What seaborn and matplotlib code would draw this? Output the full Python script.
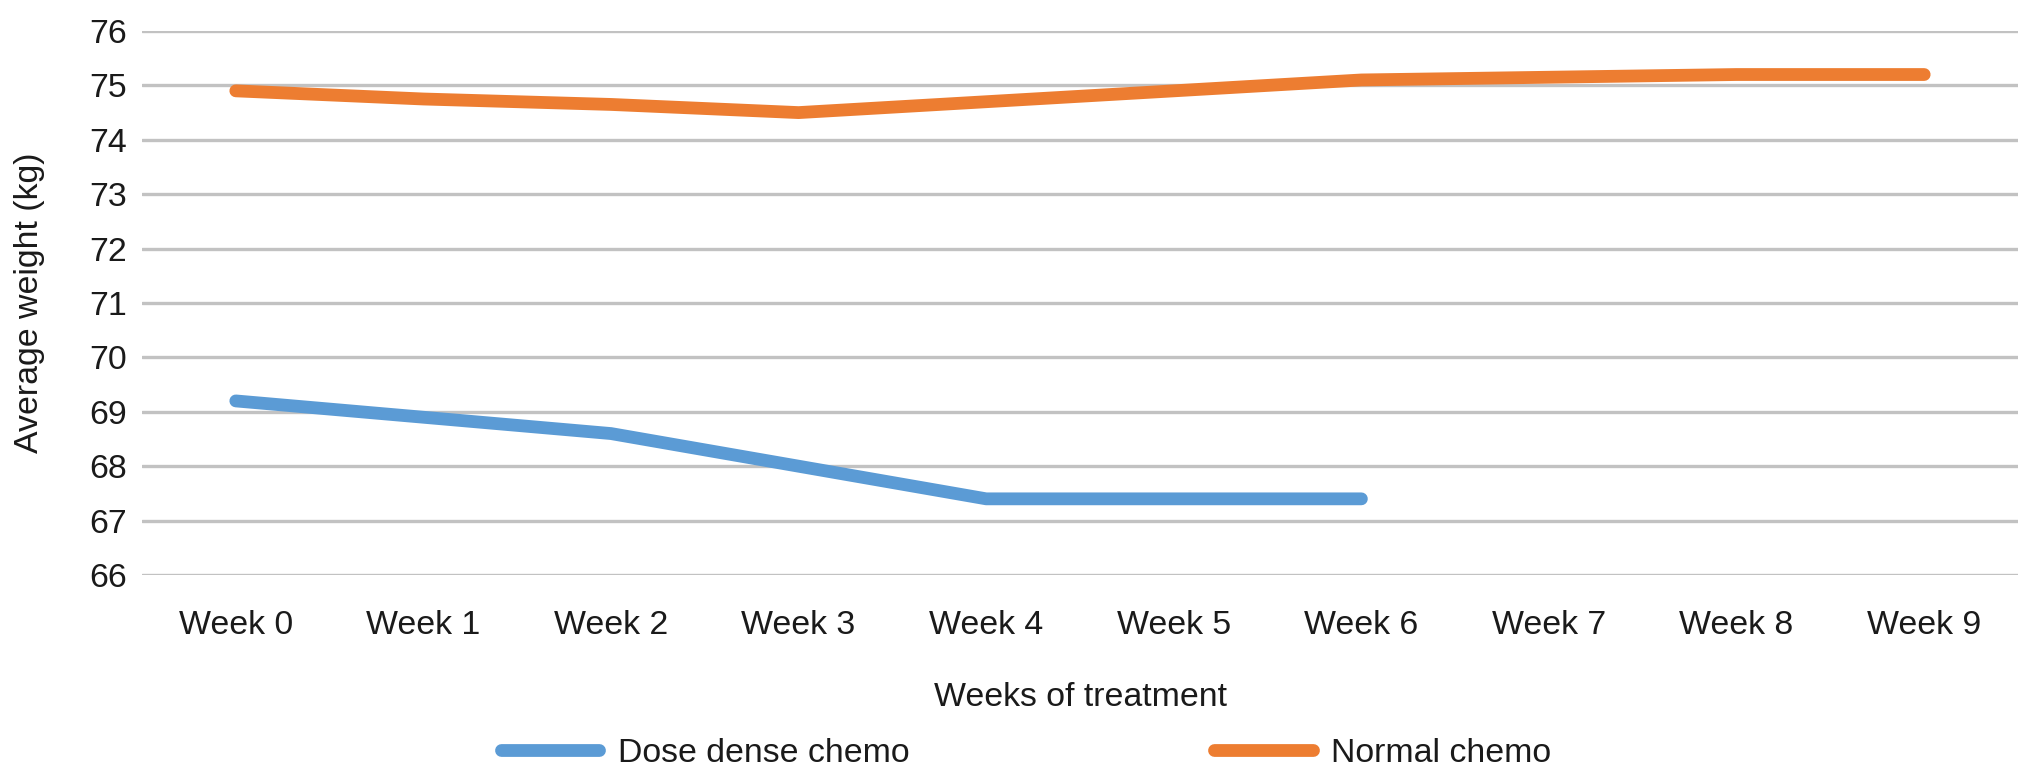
import pandas as pd
import numpy as np
import matplotlib
matplotlib.use('Agg')
import matplotlib.pyplot as plt
import seaborn as sns

# 数据
weeks = ['Week 0', 'Week 1', 'Week 2', 'Week 3', 'Week 4',
         'Week 5', 'Week 6', 'Week 7', 'Week 8', 'Week 9']
dose_dense = [69.2, 68.9, 68.6, 68.0, 67.4, 67.4, 67.4]
normal = [74.9, 74.75, 74.65, 74.5, 74.7, 74.9, 75.1, 75.15, 75.2, 75.2]
series_names = ['Dose dense chemo', 'Normal chemo']
colors = ['#5b9bd5', '#ed7d31']
y_ticks = list(range(66, 77))

rows = []
for name, vals in zip(series_names, [dose_dense, normal]):
    for i, v in enumerate(vals):
        rows.append({'week': i, 'weight': v, 'group': name})
df = pd.DataFrame(rows)

sns.set_theme(style='white')
plt.rcParams['font.family'] = ['Liberation Sans', 'DejaVu Sans']
fs = 24.4

fig = plt.figure(figsize=(20.32, 7.8), dpi=100)
left, right, top, bottom = 142, 2018, 31, 575
ax = fig.add_axes([left / 2032, 1 - bottom / 780, (right - left) / 2032, (bottom - top) / 780])

sns.lineplot(data=df, x='week', y='weight', hue='group', palette=colors,
             hue_order=series_names, estimator=None, sort=False,
             linewidth=9.2, solid_capstyle='round', ax=ax, legend=False)

ax.set_xlim(-0.5, 9.5)
ax.set_ylim(66, 76)
ax.set_yticks(y_ticks)
ax.set_yticklabels([str(t) for t in y_ticks], fontsize=fs, color='#1a1a1a')
ax.set_xticks(range(len(weeks)))
ax.set_xticklabels(weeks, fontsize=fs, color='#1a1a1a')
ax.tick_params(axis='y', length=0, pad=11)
ax.tick_params(axis='x', length=0, pad=25)
ax.grid(axis='y', color='#c2c2c2', linewidth=2.4)
ax.grid(axis='x', visible=False)
ax.set_axisbelow(True)
for s in ax.spines.values():
    s.set_visible(False)

ax.set_xlabel('')
ax.set_ylabel('')
fig.text((left + right) / 2 / 2032, 1 - 697 / 780, 'Weeks of treatment', fontsize=fs,
         ha='center', va='center', color='#1a1a1a')
fig.text(30 / 2032, 1 - 303 / 780, 'Average weight (kg)', fontsize=fs,
         ha='center', va='center', rotation=90, color='#1a1a1a')

handles = [plt.Line2D([], [], color=c, linewidth=9.2, solid_capstyle='round') for c in colors]
fig.legend(handles, series_names, loc='center', bbox_to_anchor=(1026 / 2032, 1 - 753 / 780),
           ncol=2, frameon=False, fontsize=fs, handlelength=2.9, handletextpad=0.55,
           columnspacing=9.0, borderpad=0, labelcolor='#1a1a1a')

fig.savefig('out.png', dpi=100)
